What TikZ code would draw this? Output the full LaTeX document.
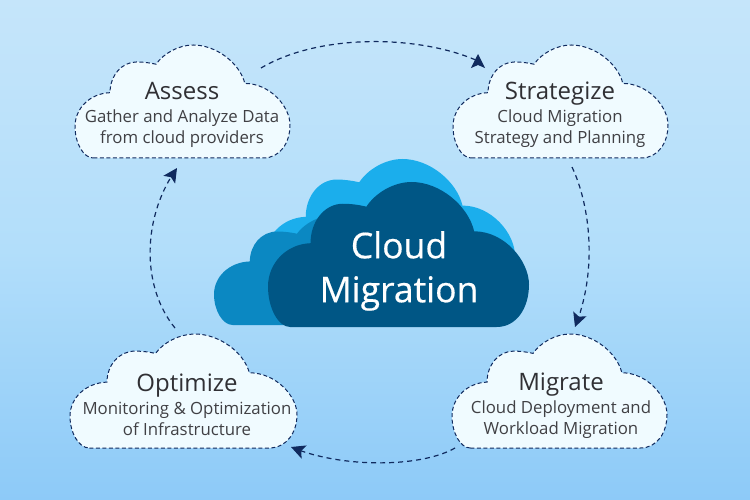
\documentclass[tikz,border=0pt]{standalone}
\usepackage{fontspec}
\setmainfont{Open Sans}
\newfontfamily\midfont[FakeBold=.5]{Open Sans}
\usetikzlibrary{arrows.meta,bending}
\definecolor{SkyTop}{RGB}{197,229,250}
\definecolor{SkyMid}{RGB}{178,222,250}
\definecolor{SkyBottom}{RGB}{141,202,248}
\definecolor{CloudLight}{RGB}{27,174,236}
\definecolor{CloudMid}{RGB}{11,136,194}
\definecolor{CloudDark}{RGB}{0,86,133}
\definecolor{CloudPale}{RGB}{240,251,255}
\definecolor{FlowNavy}{RGB}{16,42,94}
\definecolor{TextGray}{RGB}{64,64,68}
\definecolor{TitleGray}{RGB}{48,48,52}
\newcommand{\drawcloud}[5][]{
    \path[#1, shift={(#2,#3)}, xscale=#4, yscale=#5] (.085,1) -- (.876,1)
    .. controls (.953,1) and (1,.868) .. (1,.707)
    .. controls (1,.545) and (.907,.34) .. (.79,.34)
    .. controls (.767,.164) and (.659,0) .. (.55,0)
    .. controls (.481,0) and (.411,.076) .. (.377,.17)
    .. controls (.349,.158) and (.318,.15) .. (.287,.15)
    .. controls (.217,.15) and (.163,.27) .. (.163,.422)
    .. controls (.07,.428) and (0,.56) .. (0,.721)
    .. controls (0,.868) and (.039,1) .. (.085,1) -- cycle;
}
\tikzset{
    stepcloud/.style={draw=FlowNavy, fill=CloudPale, line width=1pt, dash pattern=on 4pt off 2.5pt},
    flowline/.style={draw=FlowNavy, line width=1.2pt, dash pattern=on 5pt off 4pt, -{Stealth[length=14pt,width=14pt,inset=3pt,fill=FlowNavy,sep=0pt]}},
    steptext/.style={align=center, text=TextGray, font=\fontsize{16.8}{21}\selectfont, inner sep=0pt},
    midtext/.style={align=center, text=white, font=\midfont\fontsize{35.5}{44}\selectfont, inner sep=0pt},
}
\newcommand{\steptitle}[1]{{\color{TitleGray}\fontsize{24}{23}\selectfont #1}\\[2pt]}

\begin{document}
\begin{tikzpicture}[x=1pt,y=-1pt]
\useasboundingbox (0,0) rectangle (750,500);
%Background
\shade[top color=SkyTop, bottom color=SkyBottom, middle color=SkyMid] (0,0) rectangle (750,500);
%Center clouds
\drawcloud[fill=CloudLight]{265}{159}{250}{137}
\drawcloud[fill=CloudMid]{214}{215}{220}{110}
\drawcloud[fill=CloudDark]{268}{182}{261}{145}
\node[midtext] (center) at (399,271) {Cloud\\Migration};
%Step clouds
\drawcloud[stepcloud]{75}{45}{215}{113}
\drawcloud[stepcloud]{453}{45}{215}{113}
\drawcloud[stepcloud]{452}{334}{215}{114}
\drawcloud[stepcloud]{70}{334}{227}{114}
\node[steptext] (assess) at (182,115) {\steptitle{Assess}Gather and Analyze Data\\from cloud providers};
\node[steptext] (strategize) at (560,115) {\steptitle{Strategize}Cloud Migration\\Strategy and Planning};
\node[steptext] (migrate) at (561,405.5) {\steptitle{Migrate}Cloud Deployment and\\Workload Migration};
\node[steptext] (optimize) at (187,405) {\steptitle{Optimize}Monitoring \& Optimization\\of Infrastructure};
%Flow arrows
\draw[flowline] ([shift={(79,-47)}]assess.center) .. controls (320,33) and (420,35) .. (478,61) -- ([shift={(-82,-61)}]strategize.center);
\draw[flowline] ([shift={(12,52)}]strategize.center) .. controls (590,205) and (598,270) .. ([shift={(14,-78.5)}]migrate.center);
\draw[flowline] ([shift={(-106,42.5)}]migrate.center) .. controls (420,468) and (340,468) .. ([shift={(104,42)}]optimize.center);
\draw[flowline] ([shift={(-12,-77)}]optimize.center) .. controls (140,285) and (143,215) .. ([shift={(-5,53)}]assess.center);
\end{tikzpicture}
\end{document}
